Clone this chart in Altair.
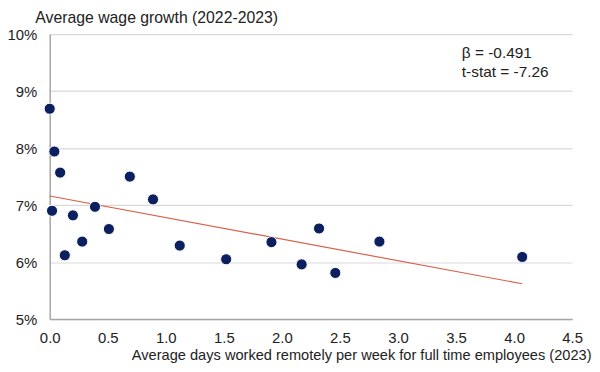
import altair as alt
import pandas as pd

# Scatter points
remote_days = [0.00, 0.04, 0.09, 0.02, 0.13, 0.20, 0.28, 0.39, 0.51, 0.69, 0.89,
               1.12, 1.52, 1.91, 2.17, 2.32, 2.46, 2.84, 4.07]
wage_growth = [8.69, 7.94, 7.57, 6.90, 6.12, 6.82, 6.36, 6.97, 6.58, 7.50, 7.10,
               6.29, 6.05, 6.35, 5.96, 6.59, 5.81, 6.36, 6.09]

# Fitted trend line endpoints
trend_x = [0.0, 4.07]
trend_y = [7.16, 5.62]

# Annotation
note_text = ["β = -0.491", "t-stat = -7.26"]
note_x = [3.55, 3.55]
note_y = [9.67, 9.33]

x_ticks = [0.0, 0.5, 1.0, 1.5, 2.0, 2.5, 3.0, 3.5, 4.0, 4.5]
y_ticks = [5, 6, 7, 8, 9, 10]

pts = pd.DataFrame({"x": remote_days, "y": wage_growth})
trend = pd.DataFrame({"x": trend_x, "y": trend_y})
notes = pd.DataFrame({"x": note_x, "y": note_y, "t": note_text})

FONT = "Liberation Sans"

xscale = alt.Scale(domain=[0, 4.5], nice=False, zero=False)
yscale = alt.Scale(domain=[5, 10], nice=False, zero=False)

xaxis = alt.Axis(values=x_ticks, format=".1f", grid=False, ticks=False,
                 labelFlush=False, labelOverlap=False,
                 labelPadding=12, labelFontSize=15, labelColor="#222222",
                 domainColor="#a6a6a6", domainWidth=1.5,
                 title="Average days worked remotely per week for full time employees (2023)",
                 titleFontSize=14.7, titleFontWeight="normal", titleColor="#222222",
                 titleAnchor="end", titleAlign="right", titleX=545, titleY=41,
                 titleBaseline="alphabetic")
yaxis = alt.Axis(values=y_ticks, labelExpr="datum.value + '%'", grid=True,
                 gridColor="#d9d9d9", gridWidth=1.2, ticks=False, labelPadding=13,
                 labelFontSize=15, labelColor="#222222", labelFlush=False,
                 domainColor="#a6a6a6", domainWidth=1.5,
                 title="Average wage growth (2022-2023)", titleAngle=0,
                 titleFontSize=15.9, titleFontWeight="normal", titleColor="#222222",
                 titleAlign="left", titleX=-15, titleY=-12, titleBaseline="alphabetic")

base_x = alt.X("x:Q", scale=xscale, axis=xaxis)
base_y = alt.Y("y:Q", scale=yscale, axis=yaxis)

line = alt.Chart(trend).mark_line(color="#d9604c", strokeWidth=1.2).encode(
    x=base_x, y=base_y)

points = alt.Chart(pts).mark_circle(size=125, color="#0c1f5e", opacity=1,
                                    stroke="#ffffff", strokeWidth=1).encode(
    x=alt.X("x:Q", scale=xscale), y=alt.Y("y:Q", scale=yscale))

text = alt.Chart(notes).mark_text(align="left", baseline="middle", fontSize=15.5,
                                  font=FONT, color="#222222").encode(
    x=alt.X("x:Q", scale=xscale), y=alt.Y("y:Q", scale=yscale), text="t:N")

chart = alt.layer(line, points, text).properties(
    width=526, height=287,
    autosize=alt.AutoSizeParams(type="none"),
    padding={"left": 42, "top": 25, "right": 20, "bottom": 52},
).configure(font=FONT).configure_view(stroke=None)

chart.save("out.html", embed_options={"renderer": "svg", "actions": False})
